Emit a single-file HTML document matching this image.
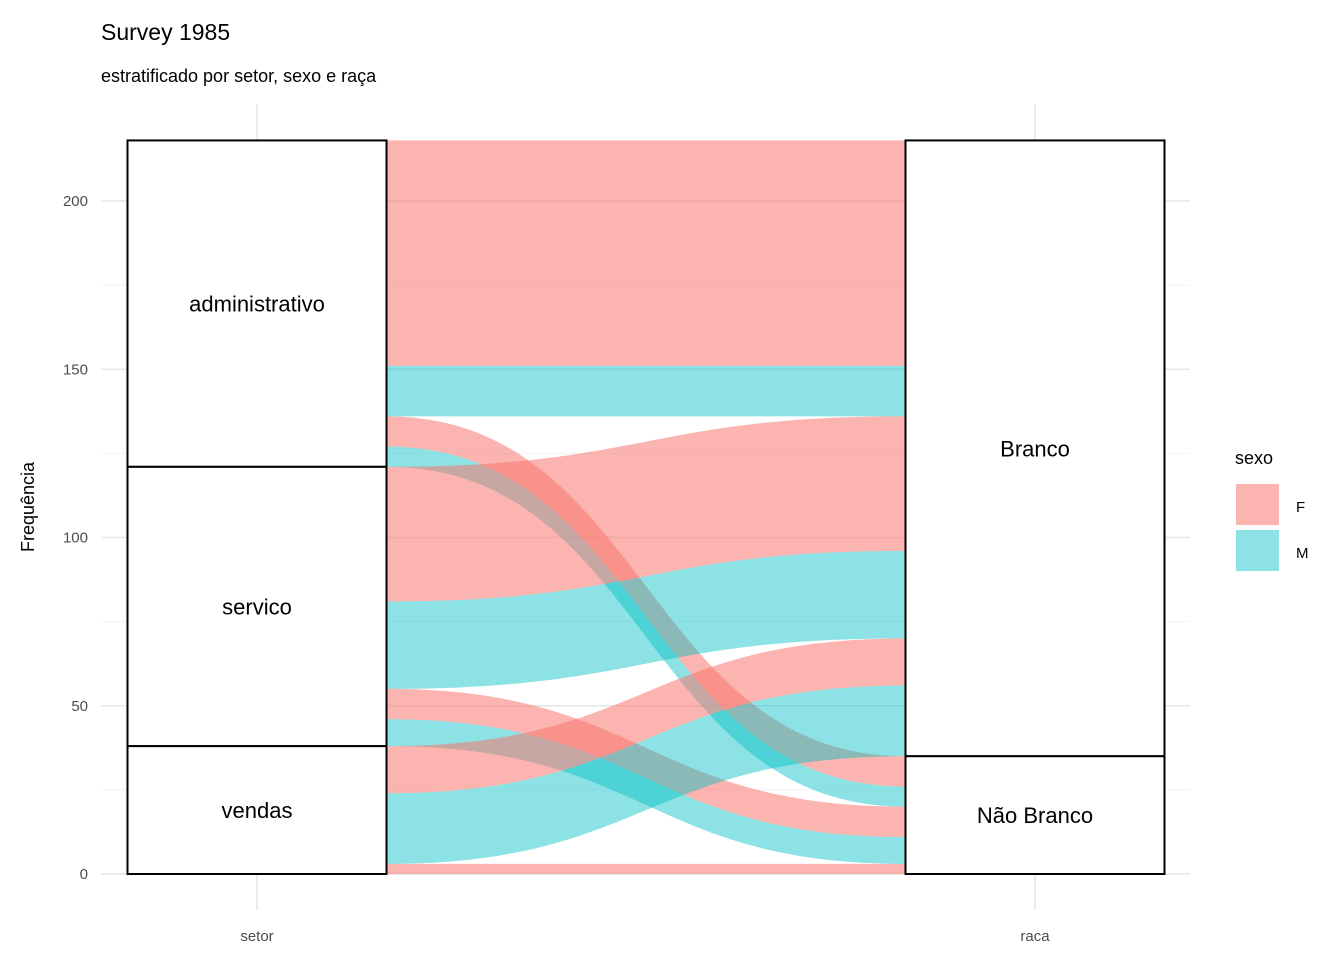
<!DOCTYPE html>
<html><head><meta charset="utf-8"><style>
body{margin:0;background:#fff;font-family:"Liberation Sans",Arial,sans-serif}
svg text{font-family:"Liberation Sans",Arial,sans-serif}
</style></head><body>
<svg id="chart" width="1344" height="960" xmlns="http://www.w3.org/2000/svg">
<text x="101" y="40" font-size="23" fill="#000">Survey 1985</text>
<text x="101" y="82" font-size="18" fill="#000">estratificado por setor, sexo e raça</text>
<text transform="translate(34,507) rotate(-90)" text-anchor="middle" font-size="18" fill="#000">Frequência</text>
<g id="grid"></g>
<g id="flows"></g>
<g id="strata"></g>
<g id="axes"></g>
<g>
<text x="1235" y="464" font-size="18" fill="#000">sexo</text>
<rect x="1236" y="484" width="43" height="41" fill="#F8766D" fill-opacity="0.55"/>
<text x="1296" y="512" font-size="15" fill="#000">F</text>
<rect x="1236" y="530" width="43" height="41" fill="#00BFC4" fill-opacity="0.45"/>
<text x="1296" y="558" font-size="15" fill="#000">M</text>
</g>
</svg>
<script>
const axes=["setor","raca"];
const setorStrata=["administrativo","servico","vendas"];
const racaStrata=["Branco","Não Branco"];
// alluvia (order top to bottom)
const flowSetor=["administrativo","administrativo","administrativo","administrativo","servico","servico","servico","servico","vendas","vendas","vendas"];
const flowRaca=["Branco","Branco","Não Branco","Não Branco","Branco","Branco","Não Branco","Não Branco","Branco","Branco","Não Branco"];
const flowSexo=["F","M","F","M","F","M","F","M","F","M","F"];
const flowCount=[67,15,9,6,40,26,9,8,14,21,3];
const yTicks=[0,50,100,150,200];

const NS="http://www.w3.org/2000/svg";
const y=v=>874-v*3.365;
const xAxis=i=>[257,1035][i];
const halfW=129.5;
const col={F:"#F8766D",M:"#00BFC4"};
function mk(t,a,p){const e=document.createElementNS(NS,t);for(const k in a)e.setAttribute(k,a[k]);p.appendChild(e);return e;}
const total=flowCount.reduce((a,b)=>a+b,0);
const grid=document.getElementById('grid');
for(let v=25;v<=total;v+=50){const g=mk('line',{x1:101,x2:1190,y1:y(v),y2:y(v),stroke:"#f2f2f2","stroke-width":1},grid);

}
yTicks.forEach(v=>{const g=mk('line',{x1:101,x2:1190,y1:y(v),y2:y(v),stroke:"#e6e6e6","stroke-width":1.5},grid);


const t=mk('text',{x:88,y:y(v)+5,"text-anchor":"end","font-size":15,fill:"#4d4d4d"},grid);t.textContent=v;

});
axes.forEach((a,i)=>{const g=mk('line',{x1:xAxis(i),x2:xAxis(i),y1:104,y2:910,stroke:"#e6e6e6","stroke-width":1.5},grid);


const t=mk('text',{x:xAxis(i),y:941,"text-anchor":"middle","font-size":15,fill:"#4d4d4d"},grid);t.textContent=a;

});
// stacking
function stackPos(strata,keyArr){
  const sums={};strata.forEach(s=>sums[s]=0);
  flowCount.forEach((c,i)=>sums[keyArr[i]]+=c);
  const top={};let cur=total;strata.forEach(s=>{top[s]=cur;cur-=sums[s];});
  const bounds={};strata.forEach(s=>bounds[s]=[top[s],top[s]-sums[s]]);
  const pos=[];flowCount.forEach((c,i)=>{const s=keyArr[i];pos.push([top[s],top[s]-c]);top[s]-=c;});
  return {pos,bounds};
}
const L=stackPos(setorStrata,flowSetor),R=stackPos(racaStrata,flowRaca);
const fl=document.getElementById('flows');
const x0=xAxis(0)+halfW,x1=xAxis(1)-halfW,xm=(x0+x1)/2;
flowCount.forEach((c,i)=>{
  const [lt,lb]=L.pos[i],[rt,rb]=R.pos[i];
  const d=`M${x0},${y(lt)} C${xm},${y(lt)} ${xm},${y(rt)} ${x1},${y(rt)} L${x1},${y(rb)} C${xm},${y(rb)} ${xm},${y(lb)} ${x0},${y(lb)} Z`;
  const p=mk('path',{d,fill:col[flowSexo[i]],"fill-opacity":flowSexo[i]=="F"?0.55:0.45},fl);
  
  
});
const st=document.getElementById('strata');
[[setorStrata,L.bounds,0],[racaStrata,R.bounds,1]].forEach(([ss,b,ai])=>{
  ss.forEach(s=>{const [t,bt]=b[s];
    const r=mk('rect',{x:xAxis(ai)-halfW,y:y(t),width:halfW*2,height:y(bt)-y(t),fill:"#fff",stroke:"#000","stroke-width":2},st);
    
    
    const tx=mk('text',{x:xAxis(ai),y:(y(t)+y(bt))/2+8,"text-anchor":"middle","font-size":22,fill:"#000"},st);tx.textContent=s;
    
    
  });
});
</script>
</body></html>
